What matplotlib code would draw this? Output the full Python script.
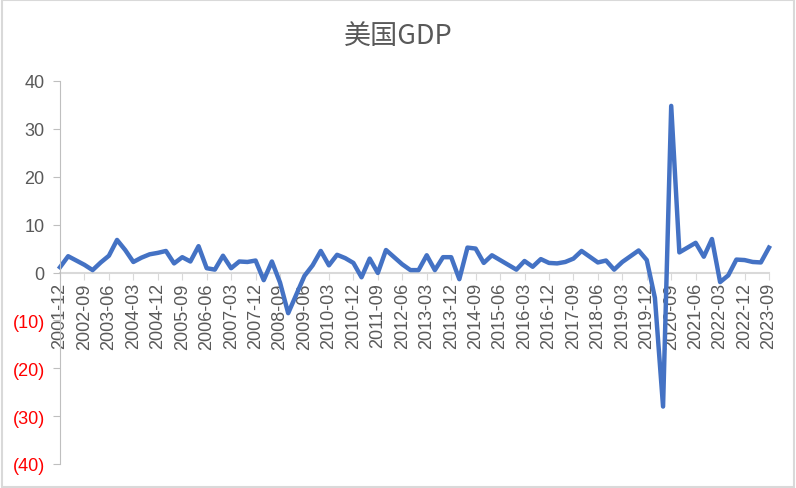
import matplotlib.pyplot as plt
import matplotlib.patches as mpatches
import pandas as pd
import numpy as np

# 季度标签 (2001-12 到 2023-09)
quarters = [p.strftime('%Y-%m') for p in pd.period_range('2001-12', '2023-09', freq='3M')]

# 美国GDP 环比折年率 (%)
gdp = [1.1, 3.4, 2.5, 1.6, 0.5, 2.1, 3.5, 6.8, 4.7, 2.2, 3.1, 3.8, 4.1, 4.5, 1.9, 3.2,
       2.3, 5.5, 0.9, 0.6, 3.5, 0.9, 2.3, 2.2, 2.5, -1.6, 2.3, -2.1, -8.5, -4.6, -0.7, 1.5,
       4.5, 1.5, 3.7, 3.0, 2.0, -1.0, 2.9, -0.1, 4.7, 3.2, 1.7, 0.5, 0.5, 3.6, 0.5, 3.2,
       3.2, -1.4, 5.2, 5.0, 2.0, 3.6, 2.6, 1.6, 0.6, 2.4, 1.2, 2.8, 2.0, 1.9, 2.2, 2.9,
       4.5, 3.3, 2.1, 2.5, 0.6, 2.2, 3.4, 4.6, 2.6, -5.3, -28.0, 34.8, 4.2, 5.2, 6.2, 3.3,
       7.0, -2.0, -0.6, 2.7, 2.6, 2.2, 2.1, 5.2]

y_ticks = [40, 30, 20, 10, 0, -10, -20, -30, -40]

plt.rcParams['font.family'] = ['Liberation Sans', 'Noto Sans CJK SC', 'DejaVu Sans']

fig = plt.figure(figsize=(7.96, 4.89), dpi=100)
ax = fig.add_axes([60 / 796, 1 - 465 / 489, 709 / 796, 383 / 489])

x = np.arange(len(gdp))
ax.plot(x, gdp, color='#4472C4', linewidth=3.2, solid_joinstyle='round', clip_on=False)

ax.set_xlim(0, len(gdp) - 1)
ax.set_ylim(-40, 40)

# 坐标轴
for s in ['top', 'right']:
    ax.spines[s].set_visible(False)
ax.spines['left'].set_color('#BFBFBF')
ax.spines['bottom'].set_color('#D9D9D9')
ax.spines['bottom'].set_linewidth(1.5)
ax.spines['bottom'].set_position(('data', 0))
ax.spines['bottom'].set_zorder(0)

ax.set_xticks(x[::3])
ax.set_xticklabels(quarters[::3], rotation=90, fontsize=13, color='#595959')
ax.tick_params(axis='x', length=5, color='#D9D9D9', pad=2)

ax.set_yticks(y_ticks)
ax.set_yticklabels([str(v) if v >= 0 else f'({-v})' for v in y_ticks], fontsize=13)
for lab, v in zip(ax.get_yticklabels(), y_ticks):
    lab.set_color('#595959' if v >= 0 else '#FF0000')
ax.tick_params(axis='y', length=5, color='#BFBFBF', pad=6)

fig.text(0.5, 1 - 36 / 489, '美国GDP', ha='center', va='center', fontsize=19.5,
         color='#595959', family=['Noto Sans CJK SC', 'DejaVu Sans'])

# 外框
fig.patches.append(mpatches.Rectangle((0.002, 0.003), 0.995, 0.994, transform=fig.transFigure,
                                      fill=False, edgecolor='#D9D9D9', linewidth=1.5))

fig.savefig('out.png', dpi=100)
